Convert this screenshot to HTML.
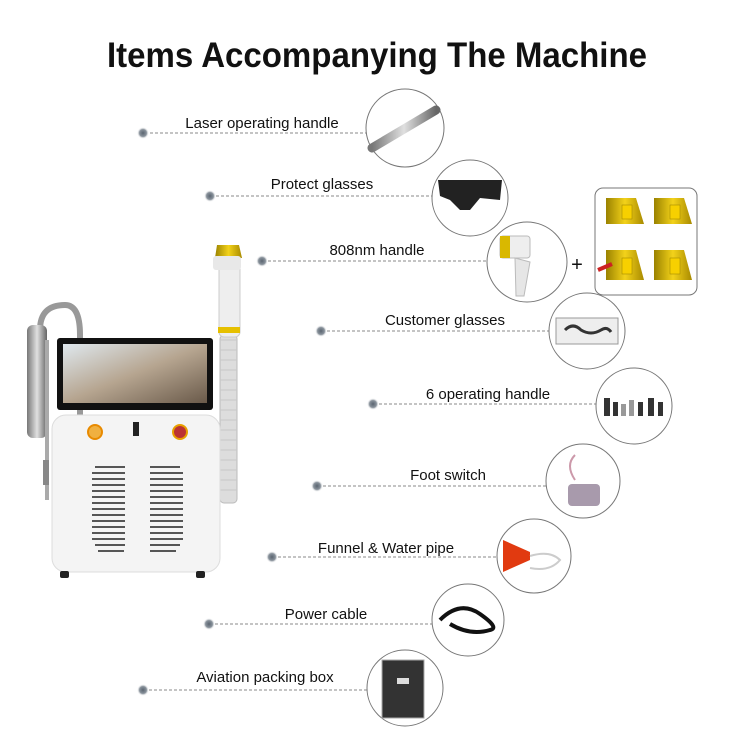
<!DOCTYPE html>
<html><head><meta charset="utf-8"><style>
html,body{margin:0;padding:0;background:#fff}
svg{display:block}
text{font-family:"Liberation Sans",sans-serif}
</style></head><body>
<svg width="750" height="750" viewBox="0 0 750 750" xmlns="http://www.w3.org/2000/svg">
<defs>
<radialGradient id="dot"><stop offset="0" stop-color="#5a6470"/><stop offset="0.6" stop-color="#8a939c"/><stop offset="1" stop-color="#fff" stop-opacity="0"/></radialGradient>
<linearGradient id="metal" x1="0" x2="1"><stop offset="0" stop-color="#777"/><stop offset="0.5" stop-color="#e0e0e0"/><stop offset="1" stop-color="#666"/></linearGradient>
<linearGradient id="gold" x1="0" x2="1"><stop offset="0" stop-color="#9a8200"/><stop offset="0.5" stop-color="#f3d21a"/><stop offset="1" stop-color="#a88a00"/></linearGradient>
<linearGradient id="scr" x1="0" x2="1" y1="0" y2="1"><stop offset="0" stop-color="#dfe8ee"/><stop offset="0.5" stop-color="#b6a590"/><stop offset="1" stop-color="#6a5a4a"/></linearGradient>
</defs>
<text x="107" y="67" textLength="540" lengthAdjust="spacingAndGlyphs" font-size="35" font-weight="bold" fill="#111">Items Accompanying The Machine</text>

<g stroke="#888" stroke-width="1" stroke-dasharray="3,2">
<line x1="150" y1="133" x2="366" y2="133"/>
<line x1="216" y1="196" x2="432" y2="196"/>
<line x1="268" y1="261" x2="487" y2="261"/>
<line x1="327" y1="331" x2="549" y2="331"/>
<line x1="379" y1="404" x2="596" y2="404"/>
<line x1="323" y1="486" x2="546" y2="486"/>
<line x1="278" y1="557" x2="497" y2="557"/>
<line x1="215" y1="624" x2="432" y2="624"/>
<line x1="149" y1="690" x2="368" y2="690"/>
</g>
<g fill="url(#dot)">
<circle cx="143" cy="133" r="6"/><circle cx="210" cy="196" r="6"/><circle cx="262" cy="261" r="6"/>
<circle cx="321" cy="331" r="6"/><circle cx="373" cy="404" r="6"/><circle cx="317" cy="486" r="6"/>
<circle cx="272" cy="557" r="6"/><circle cx="209" cy="624" r="6"/><circle cx="143" cy="690" r="6"/>
</g>
<g font-size="15" fill="#111" text-anchor="middle">
<text x="262" y="128">Laser operating handle</text>
<text x="322" y="189">Protect glasses</text>
<text x="377" y="255">808nm handle</text>
<text x="445" y="325">Customer glasses</text>
<text x="488" y="399">6 operating handle</text>
<text x="448" y="480">Foot switch</text>
<text x="386" y="553">Funnel &amp; Water pipe</text>
<text x="326" y="619">Power cable</text>
<text x="265" y="682">Aviation packing box</text>
</g>
<g fill="#fff" stroke="#777" stroke-width="1">
<circle cx="405" cy="128" r="39"/><circle cx="470" cy="198" r="38"/><circle cx="527" cy="262" r="40"/>
<circle cx="587" cy="331" r="38"/><circle cx="634" cy="406" r="38"/><circle cx="583" cy="481" r="37"/>
<circle cx="534" cy="556" r="37"/><circle cx="468" cy="620" r="36"/><circle cx="405" cy="688" r="38"/>
<rect x="595" y="188" width="102" height="107" rx="8"/>
</g>
<text x="577" y="271" font-size="20" text-anchor="middle" fill="#111">+</text>
<line x1="372" y1="148" x2="436" y2="110" stroke="url(#metal)" stroke-width="9" stroke-linecap="round"/>
<path d="M438 180 L502 180 L500 200 L480 198 L470 210 L460 210 L450 200 L440 196Z" fill="#222"/>
<rect x="500" y="236" width="30" height="22" rx="3" fill="#eee" stroke="#bbb"/>
<rect x="500" y="236" width="10" height="22" fill="#d9b800"/>
<path d="M515 258 L530 262 L524 296 L516 296Z" fill="#e6e6e6" stroke="#bbb"/>
<rect x="556" y="318" width="62" height="26" fill="#eee" stroke="#999"/>
<path d="M565 330 q8 -8 16 0 q10 6 20 0 q6 -4 10 2" stroke="#333" stroke-width="3" fill="none"/>
<g fill="#333"><rect x="604" y="398" width="6" height="18"/><rect x="613" y="402" width="5" height="14"/><rect x="621" y="404" width="5" height="12" fill="#999"/><rect x="629" y="400" width="5" height="16" fill="#999"/><rect x="638" y="402" width="5" height="14"/><rect x="648" y="398" width="6" height="18"/><rect x="658" y="402" width="5" height="14"/></g>
<path d="M575 455 q-10 10 0 25" stroke="#c9a" stroke-width="2" fill="none"/>
<rect x="568" y="484" width="32" height="22" rx="4" fill="#a89aac"/>
<path d="M503 540 L530 552 L530 560 L503 572Z" fill="#e13a10"/>
<path d="M530 556 q20 -6 30 4 q-10 12 -30 8" stroke="#ccc" stroke-width="2" fill="none"/>
<path d="M440 620 q20 -20 40 -6 q20 14 10 16 q-20 6 -40 -6" stroke="#111" stroke-width="4" fill="none"/>
<rect x="382" y="660" width="42" height="58" fill="#333" stroke="#aaa"/>
<rect x="397" y="678" width="12" height="6" fill="#ddd"/>
<g fill="url(#gold)"><path d="M606 198h30l8 26h-38z"/><path d="M654 198h30l8 26h-38z"/><path d="M606 250h30l8 30h-38z"/><path d="M654 250h30l8 30h-38z"/></g>
<g fill="#f7d000" stroke="#a58a00" stroke-width="0.6"><rect x="622" y="205" width="10" height="14"/><rect x="670" y="205" width="10" height="14"/><rect x="622" y="258" width="10" height="16"/><rect x="670" y="258" width="10" height="16"/></g>
<line x1="598" y1="270" x2="612" y2="264" stroke="#c22" stroke-width="4"/>

<path d="M40 330 q0 -25 25 -25 q15 0 15 30 L80 430" stroke="#999" stroke-width="6" fill="none"/>
<rect x="27" y="325" width="20" height="113" rx="6" fill="url(#metal)"/>
<rect x="45" y="340" width="4" height="160" fill="#aaa"/>
<rect x="43" y="460" width="6" height="25" fill="#888"/>
<rect x="220" y="335" width="17" height="168" rx="4" fill="#ddd" stroke="#bbb"/>
<path d="M220 340 h17 M220 350 h17 M220 360 h17 M220 370 h17 M220 380 h17 M220 390 h17 M220 400 h17 M220 410 h17 M220 420 h17 M220 430 h17 M220 440 h17 M220 450 h17 M220 460 h17 M220 470 h17 M220 480 h17 M220 490 h17" stroke="#c8c8c8"/>
<rect x="219" y="262" width="21" height="75" rx="5" fill="#eee" stroke="#ccc"/>
<rect x="218" y="327" width="22" height="6" fill="#e6c000"/>
<path d="M215 258 L217 245 L239 245 L242 258Z" fill="url(#gold)"/>
<rect x="213" y="256" width="28" height="14" rx="3" fill="#e8e8e8"/>
<rect x="57" y="338" width="156" height="72" rx="3" fill="#111"/>
<rect x="63" y="344" width="144" height="59" fill="url(#scr)"/>
<rect x="52" y="415" width="168" height="157" rx="14" fill="#f4f4f4" stroke="#ddd"/>
<circle cx="95" cy="432" r="7" fill="#f0b040" stroke="#e88a00" stroke-width="2"/>
<circle cx="180" cy="432" r="7" fill="#b33" stroke="#e8a000" stroke-width="2"/>
<rect x="133" y="422" width="6" height="14" fill="#222"/>
<g stroke="#222" stroke-width="1.4">
<path d="M95 467h30M92 473h33M92 479h33M92 485h33M92 491h33M92 497h33M92 503h33M92 509h33M92 515h33M92 521h33M92 527h33M92 533h33M92 539h33M95 545h30M98 551h26"/>
<path d="M150 467h30M150 473h33M150 479h33M150 485h33M150 491h33M150 497h33M150 503h33M150 509h33M150 515h33M150 521h33M150 527h33M150 533h33M150 539h33M150 545h30M150 551h26"/>
</g>
<rect x="60" y="571" width="9" height="7" rx="2" fill="#222"/>
<rect x="196" y="571" width="9" height="7" rx="2" fill="#222"/>
</svg>
</body></html>
